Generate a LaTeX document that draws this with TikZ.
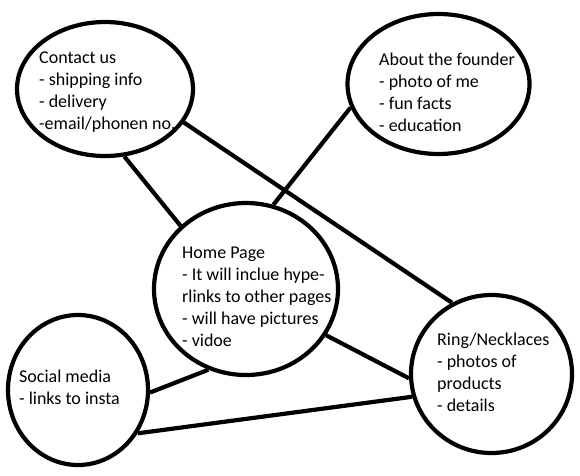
\documentclass[tikz,border=0pt]{standalone}
\usepackage{fontspec}
\setmainfont{Carlito}
\usetikzlibrary{shapes.geometric}
\tikzset{
  bubble/.style={ellipse, draw=black, line width=4.2pt, inner sep=0pt, fill=none},
  link/.style={draw=black, line width=4.2pt},
  txt/.style={anchor=base west, inner sep=0pt, font=\fontsize{18}{22}\selectfont}
}
\newcommand{\lines}[1]{\begin{tabular}[t]{@{}l@{}}#1\end{tabular}}
\begin{document}
\begin{tikzpicture}[x=1pt,y=-1pt]
\useasboundingbox (0,0) rectangle (580,475);
% bubbles
\node[bubble, minimum width=176pt, minimum height=134pt] (contact) at (105,89) {};
\node[bubble, minimum width=182pt, minimum height=140pt] (about) at (438.5,84) {};
\node[bubble, minimum width=184pt, minimum height=172pt] (home) at (246,289) {};
\node[bubble, minimum width=140pt, minimum height=150pt] (social) at (78,390) {};
\node[bubble, minimum width=161pt, minimum height=158pt] (ring) at (491.5,374) {};
% texts
\node[txt] (contacttxt) at (39,63.5) {\lines{Contact us\\- shipping info\\- delivery\\-email/phonen no.}};
\node[txt] (abouttxt) at (379,65) {\lines{About the founder\\- photo of me\\- fun facts\\- education}};
\node[txt] (hometxt) at (182,258) {\lines{Home Page\\- It will inclue hype-\\rlinks to other pages\\- will have pictures\\- vidoe}};
\node[txt] (socialtxt) at (19,382) {\lines{Social media\\- links to insta}};
\node[txt] (ringtxt) at (437,345) {\lines{Ring/Necklaces\\- photos of\\products\\- details}};
% connectors
\draw[link] (contact.-74) -- (home.136);
\draw[link] (contact.-23) -- (ring.119);
\draw[link] (about.195) -- (home.72);
\draw[link] (home.-30.6) -- (ring.183);
\draw[link] (social.-2.4) -- (home.-115);
\draw[link] (social.-36) -- (ring.196);
\end{tikzpicture}
\end{document}
